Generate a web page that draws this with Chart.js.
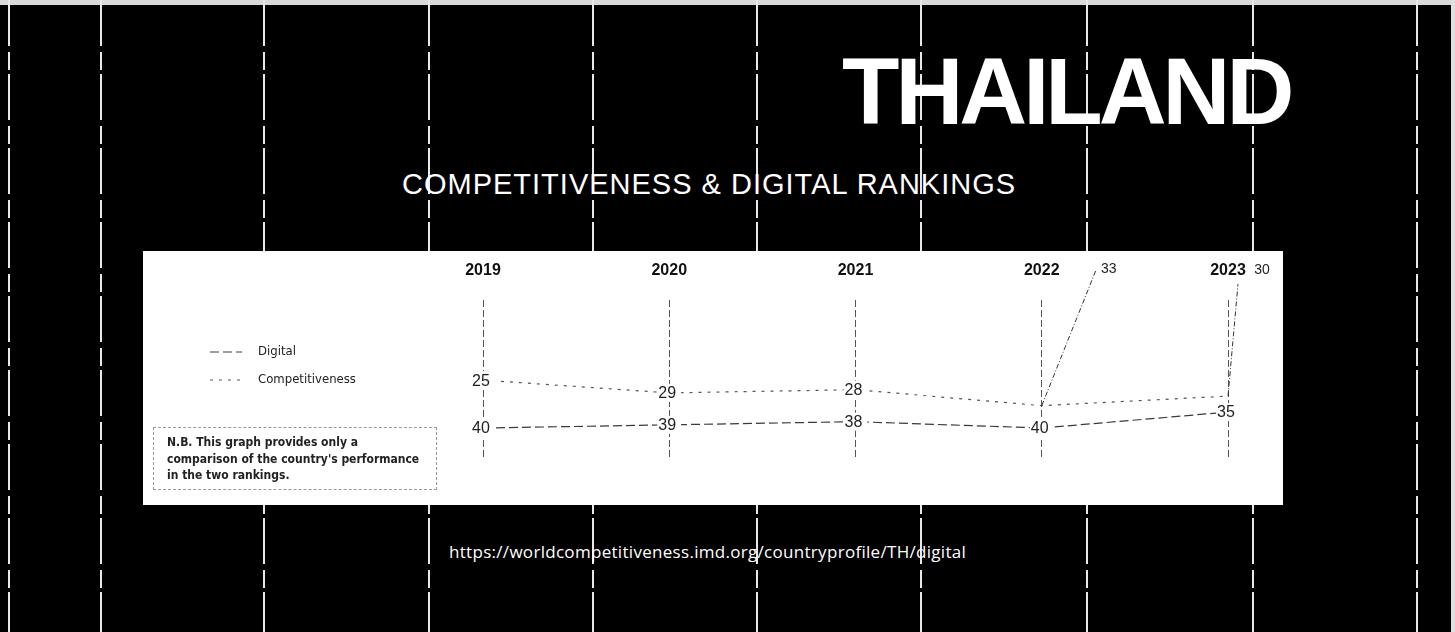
<!DOCTYPE html>
<html>
<head>
<meta charset="utf-8">
<title>Thailand - Competitiveness & Digital Rankings</title>
<script src="https://cdn.jsdelivr.net/npm/chart.js@4.4.0/dist/chart.umd.min.js"></script>
<style>
  html, body { margin: 0; padding: 0; }
  body {
    width: 1455px; height: 632px; overflow: hidden;
    background: #000; position: relative;
    font-family: "Liberation Sans", Arial, sans-serif;
  }
  .vline {
    position: absolute; top: 0; width: 2px; height: 632px;
    background: repeating-linear-gradient(to bottom, #e8e8e8 0 46px, transparent 46px 52px, #e8e8e8 52px 70px, transparent 70px 74px);
  }
  #edgeTop { position: absolute; left: 0; top: 0; width: 1455px; height: 5px; background: #d9d9d9; }
  #edgeRight { position: absolute; right: 0; top: 0; width: 4px; height: 632px; background: #e0e0e0; }
  #title {
    position: absolute; left: 842px; top: 45px;
    color: #fff; font-weight: bold; font-size: 94px; line-height: 1;
    letter-spacing: -4px; white-space: nowrap;
  }
  #subtitle {
    position: absolute; left: 402px; top: 170px;
    color: #fff; font-size: 29px; line-height: 1; letter-spacing: 1px; white-space: nowrap;
  }
  #url {
    position: absolute; left: 449px; top: 543px;
    color: #fff; font-family: "Open Sans", sans-serif; font-size: 17px; line-height: 1;
    letter-spacing: 0.3px; white-space: nowrap;
  }
  #panel {
    position: absolute; left: 143px; top: 251px; width: 1140px; height: 254px;
    background: #fff; z-index: 2;
  }
  #chart { position: absolute; left: 0; top: -10px; }
  #note {
    position: absolute; left: 10px; top: 176px; width: 284px; height: 63px;
    border: 1px dashed #999; padding: 6px 0 0 13px; box-sizing: border-box;
    font-family: "DejaVu Sans Condensed", "DejaVu Sans", sans-serif;
    font-weight: bold; font-size: 12px; line-height: 16.5px; color: #222;
  }
</style>
</head>
<body>
<div id="edgeTop"></div>
<div id="edgeRight"></div>
<div id="lines"></div>
<div id="title">THAILAND</div>
<div id="subtitle">COMPETITIVENESS &amp; DIGITAL RANKINGS</div>
<div id="panel">
  <canvas id="chart" width="1140" height="264"></canvas>
  <div id="note">N.B. This graph provides only a<br>comparison of the country's performance<br>in the two rankings.</div>
</div>
<div id="url">https://worldcompetitiveness.imd.org/countryprofile/TH/digital</div>

<script>
// data (rank, 1 = best)
var years = ['2019', '2020', '2021', '2022', '2023'];
var digitalRank = [40, 39, 38, 40, 35];
var competitivenessRank = [25, 29, 28, 33, 30];
var seriesNames = ['Digital', 'Competitiveness'];

// background guide lines
var linePos = [8, 100, 263, 428, 592, 756, 920, 1086, 1252, 1416];
var holder = document.getElementById('lines');
linePos.forEach(function (x) {
    var d = document.createElement('div');
    d.className = 'vline';
    d.style.left = x + 'px';
    holder.appendChild(d);
});

// value labels sitting on the points, two of them pulled up with a leader
var valueLabels = {
    id: 'valueLabels',
    afterDatasetsDraw: function (chart, args, opts) {
        var ctx = chart.ctx;
        ctx.save();
        chart.data.datasets.forEach(function (ds, di) {
            var meta = chart.getDatasetMeta(di);
            meta.data.forEach(function (pt, i) {
                var txt = String(ds.data[i]);
                var lead = (opts.leaders[di] || {})[i];
                if (lead) {
                    ctx.setLineDash([5, 2, 1, 2]);
                    ctx.strokeStyle = '#333';
                    ctx.lineWidth = 1;
                    ctx.beginPath();
                    ctx.moveTo(pt.x, pt.y);
                    ctx.lineTo(pt.x + lead.lx, pt.y + lead.ly);
                    ctx.stroke();
                    ctx.setLineDash([]);
                    ctx.font = '14px "Liberation Sans", Arial';
                    ctx.fillStyle = '#222';
                    ctx.textAlign = 'center';
                    ctx.textBaseline = 'middle';
                    ctx.fillText(txt, pt.x + lead.tx, pt.y + lead.ty);
                    return;
                }
                ctx.font = '16px "Liberation Sans", Arial';
                var w = ctx.measureText(txt).width;
                ctx.fillStyle = '#fff';
                ctx.fillRect(pt.x - w / 2 - 3, pt.y - 9, w + 6, 18);
                ctx.fillStyle = '#222';
                ctx.textAlign = 'center';
                ctx.textBaseline = 'middle';
                ctx.fillText(txt, pt.x - 2, pt.y + 1);
            });
        });
        ctx.restore();
    }
};

// small legend at the left of the panel
var sideLegend = {
    id: 'sideLegend',
    afterDraw: function (chart, args, opts) {
        var ctx = chart.ctx;
        ctx.save();
        chart.data.datasets.forEach(function (ds, di) {
            var y = opts.y + di * opts.gap;
            ctx.strokeStyle = ds.borderColor;
            ctx.lineWidth = 1;
            ctx.setLineDash(ds.borderDash);
            ctx.beginPath();
            ctx.moveTo(opts.x, y);
            ctx.lineTo(opts.x + 32, y);
            ctx.stroke();
            ctx.setLineDash([]);
            ctx.font = '13px "DejaVu Sans Condensed", "DejaVu Sans", sans-serif';
            ctx.fillStyle = '#222';
            ctx.textAlign = 'left';
            ctx.textBaseline = 'middle';
            ctx.fillText(ds.label, opts.x + 48, y);
        });
        ctx.restore();
    }
};

var config = {
    type: 'line',
    data: {
        labels: years,
        datasets: [{
            label: seriesNames[0],
            data: digitalRank,
            borderColor: '#3a3a3a',
            borderWidth: 1.2,
            borderDash: [9, 4],
            pointRadius: 0,
            tension: 0
        }, {
            label: seriesNames[1],
            data: competitivenessRank,
            borderColor: '#555',
            borderWidth: 1.2,
            borderDash: [3, 6],
            pointRadius: 0,
            tension: 0
        }]
    },
    plugins: [valueLabels, sideLegend],
    options: {
        responsive: false,
        animation: false,
        layout: { padding: { left: 340, right: 55, top: 0, bottom: 45 } },
        scales: {
            x: {
                position: 'top',
                offset: false,
                grid: { color: '#555', lineWidth: 1, drawTicks: false },
                border: { display: false, dash: [7, 3] },
                ticks: {
                    color: '#111',
                    padding: 20,
                    font: { family: '"Liberation Sans", Arial', size: 16, weight: 'bold' }
                }
            },
            y: {
                display: false,
                reverse: true,
                min: 0,
                max: 50
            }
        },
        plugins: {
            legend: { display: false },
            tooltip: { enabled: false },
            valueLabels: {
                leaders: {
                    1: {
                        3: { lx: 54, ly: -135, tx: 67, ty: -137 },
                        4: { lx: 10, ly: -112, tx: 34, ty: -126 }
                    }
                }
            },
            sideLegend: { x: 67, y: 111, gap: 28 }
        }
    }
};

var chart = new Chart(document.getElementById('chart').getContext('2d'), config);
</script>
</body>
</html>
